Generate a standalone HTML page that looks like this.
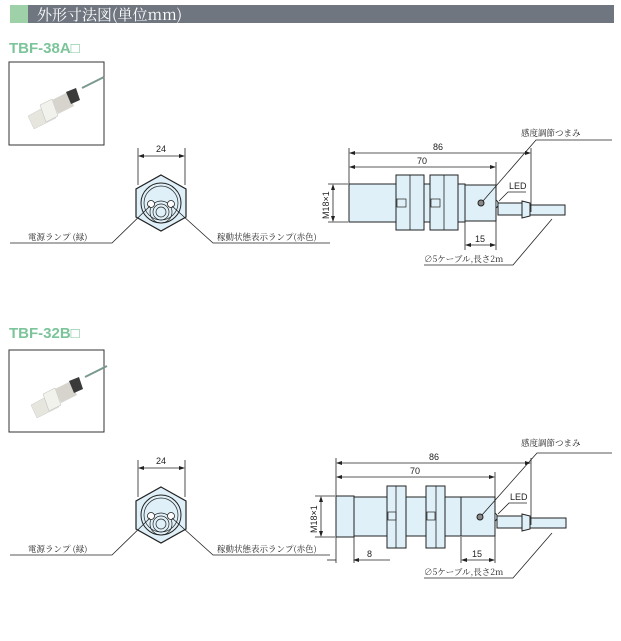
<!DOCTYPE html>
<html><head><meta charset="utf-8"><style>
html,body{margin:0;padding:0;background:#fff;}
svg{display:block;font-family:"Liberation Sans","Noto Sans CJK JP",sans-serif;}
.l{stroke:#222;stroke-width:0.8;fill:none}
.t{font-size:9px;fill:#222}
.j{font-family:"Noto Serif CJK SC","Liberation Serif",serif;font-size:8.5px;fill:#222}
.b{fill:#dff0f8;stroke:#222;stroke-width:1}
</style></head><body>
<svg width="621" height="641" viewBox="0 0 621 641" xmlns="http://www.w3.org/2000/svg">
<defs>
<marker id="a" markerWidth="6" markerHeight="6" refX="5" refY="3" orient="auto-start-reverse" markerUnits="userSpaceOnUse"><path d="M0,1 L6,3 L0,5 z" fill="#222"/></marker>
<g id="front">
<polygon points="161,175 186,189 186,217 161,231 136,217 136,189" fill="#dff0f8" stroke="#222" stroke-width="1.2"/>
<circle cx="161" cy="203" r="20" fill="#dff0f8" stroke="#222"/>
<circle cx="161" cy="203" r="17" fill="none" stroke="#222" stroke-width="0.7"/>
<circle cx="161" cy="212" r="11" fill="none" stroke="#222" stroke-width="0.7"/>
<circle cx="161" cy="212" r="8" fill="none" stroke="#222" stroke-width="0.7"/>
<circle cx="161" cy="212" r="5" fill="none" stroke="#222" stroke-width="0.7"/>
<circle cx="151" cy="204" r="3.5" fill="#fff" stroke="#222" stroke-width="0.8"/>
<circle cx="171" cy="204" r="3.5" fill="#fff" stroke="#222" stroke-width="0.8"/>
<line class="l" x1="138" y1="148" x2="138" y2="185"/><line class="l" x1="185" y1="148" x2="185" y2="185"/>
<line class="l" x1="139" y1="156" x2="184" y2="156" marker-start="url(#a)" marker-end="url(#a)"/>
<path class="l" d="M10,243 H112 L150,206"/>
<path class="l" d="M330,243 H213 L172,206"/>
</g>
<g id="photo">
<line x1="82" y1="88" x2="104" y2="77" stroke="#7a9a8f" stroke-width="2"/>
<polygon points="28,116 50,104 56,118 34,129" fill="#e6e6de" stroke="#ccc" stroke-width="0.5"/>
<polygon points="40,105 52,99 58,116 46,122" fill="#f2f2ec" stroke="#bbb" stroke-width="0.5"/>
<polygon points="52,100 68,92 74,106 58,114" fill="#d6d4cc"/>
<polygon points="66,92 76,88 80,100 71,104" fill="#3a3a3a"/>
</g>
</defs>

<rect x="10" y="5" width="18" height="18" fill="#9ed1a8"/>
<rect x="28" y="5" width="586" height="18" fill="#6f7680"/>
<text x="37" y="20" fill="#fff" style="font-family:'Noto Serif CJK SC',serif;font-size:15px">外形寸法図(単位mm)</text>

<!-- section 1 -->
<text x="9" y="53" fill="#7cc49a" font-weight="bold" font-size="15">TBF-38A□</text>
<rect x="9" y="62" width="95" height="83" fill="#fff" stroke="#333"/>
<use href="#photo"/>
<use href="#front"/>
<text class="t" x="156" y="152">24</text>
<text class="j" x="28" y="240">電源ランプ (緑)</text>
<text class="j" x="217" y="240">稼動状態表示ランプ(赤色)</text>

<rect class="b" x="349" y="184" width="116" height="38"/>
<rect class="b" x="465" y="185" width="31" height="36"/>
<rect class="b" x="396" y="175" width="28" height="55"/><line class="l" x1="410" y1="175" x2="410" y2="230"/>
<rect class="b" x="430" y="175" width="28" height="55"/><line class="l" x1="444" y1="175" x2="444" y2="230"/>
<rect x="397" y="199" width="9" height="8" fill="none" stroke="#222" stroke-width="0.7"/>
<rect x="431" y="199" width="9" height="8" fill="none" stroke="#222" stroke-width="0.7"/>
<circle cx="481" cy="203" r="3" fill="#888" stroke="#222"/>
<path d="M496,200 Q501,204 496,208" class="b"/>
<rect class="b" x="498" y="203" width="24" height="12"/>
<polygon class="b" points="522,201 530,203 530,216 522,218"/>
<rect class="b" x="530" y="205" width="35" height="10"/>
<line class="l" x1="349" y1="148" x2="349" y2="184"/>
<line class="l" x1="531" y1="148" x2="531" y2="212"/>
<line class="l" x1="496" y1="162" x2="496" y2="250"/>
<line class="l" x1="465" y1="222" x2="465" y2="250"/>
<line class="l" x1="350" y1="153" x2="530" y2="153" marker-start="url(#a)" marker-end="url(#a)"/>
<line class="l" x1="350" y1="167" x2="495" y2="167" marker-start="url(#a)" marker-end="url(#a)"/>
<line class="l" x1="466" y1="245" x2="495" y2="245" marker-start="url(#a)" marker-end="url(#a)"/>
<line class="l" x1="328" y1="184" x2="348" y2="184"/><line class="l" x1="328" y1="222" x2="348" y2="222"/>
<line class="l" x1="333" y1="185" x2="333" y2="221" marker-start="url(#a)" marker-end="url(#a)"/>
<text class="t" x="433" y="150">86</text>
<text class="t" x="417" y="164">70</text>
<text class="t" x="475" y="242">15</text>
<text class="t" transform="translate(329,219) rotate(-90)">M18×1</text>
<text class="j" x="521" y="136">感度調節つまみ</text>
<path class="l" d="M612,140 H536 L483,201"/>
<text class="t" x="509" y="189">LED</text>
<path class="l" d="M526,192 H508 L499,201"/>
<text class="j" x="424" y="262">∅5ケーブル,長さ2m</text>
<path class="l" d="M424,265 H513 L552,219"/>

<!-- section 2 -->
<text x="9" y="338" fill="#7cc49a" font-weight="bold" font-size="15">TBF-32B□</text>
<rect x="9" y="350" width="95" height="82" fill="#fff" stroke="#333"/>
<use href="#photo" transform="translate(3,289)"/>
<use href="#front" transform="translate(0,312)"/>
<text class="t" x="156" y="464">24</text>
<text class="j" x="28" y="552">電源ランプ (緑)</text>
<text class="j" x="217" y="552">稼動状態表示ランプ(赤色)</text>

<rect class="b" x="336" y="496" width="18" height="41"/>
<rect class="b" x="354" y="497" width="107" height="39"/>
<rect class="b" x="461" y="497" width="34" height="39"/>
<rect class="b" x="387" y="486" width="19" height="62"/><line class="l" x1="396" y1="486" x2="396" y2="548"/>
<rect class="b" x="426" y="486" width="19" height="62"/><line class="l" x1="436" y1="486" x2="436" y2="548"/>
<rect x="388" y="512" width="8" height="8" fill="none" stroke="#222" stroke-width="0.7"/>
<rect x="427" y="512" width="8" height="8" fill="none" stroke="#222" stroke-width="0.7"/>
<circle cx="480" cy="517" r="3" fill="#888" stroke="#222"/>
<path d="M495,513 Q500,517 495,521" class="b"/>
<rect class="b" x="497" y="516" width="25" height="12"/>
<polygon class="b" points="522,514 530,516 530,529 522,531"/>
<rect class="b" x="530" y="518" width="36" height="10"/>
<line class="l" x1="336" y1="458" x2="336" y2="563"/>
<line class="l" x1="354" y1="537" x2="354" y2="563"/>
<line class="l" x1="531" y1="458" x2="531" y2="525"/>
<line class="l" x1="495" y1="472" x2="495" y2="563"/>
<line class="l" x1="461" y1="537" x2="461" y2="563"/>
<line class="l" x1="337" y1="463" x2="530" y2="463" marker-start="url(#a)" marker-end="url(#a)"/>
<line class="l" x1="337" y1="477" x2="494" y2="477" marker-start="url(#a)" marker-end="url(#a)"/>
<line class="l" x1="327" y1="560" x2="336" y2="560"/>
<line class="l" x1="354" y1="560" x2="390" y2="560" marker-start="url(#a)"/>
<line class="l" x1="462" y1="560" x2="494" y2="560" marker-start="url(#a)" marker-end="url(#a)"/>
<line class="l" x1="315" y1="496" x2="335" y2="496"/><line class="l" x1="315" y1="537" x2="335" y2="537"/>
<line class="l" x1="321" y1="497" x2="321" y2="536" marker-start="url(#a)" marker-end="url(#a)"/>
<text class="t" x="429" y="460">86</text>
<text class="t" x="410" y="474">70</text>
<text class="t" x="367" y="557">8</text>
<text class="t" x="472" y="557">15</text>
<text class="t" transform="translate(317,533) rotate(-90)">M18×1</text>
<text class="j" x="521" y="446">感度調節つまみ</text>
<path class="l" d="M612,453 H537 L482,515"/>
<text class="t" x="510" y="500">LED</text>
<path class="l" d="M527,503 H509 L498,514"/>
<text class="j" x="424" y="575">∅5ケーブル,長さ2m</text>
<path class="l" d="M424,578 H513 L552,533"/>
</svg>
</body></html>
